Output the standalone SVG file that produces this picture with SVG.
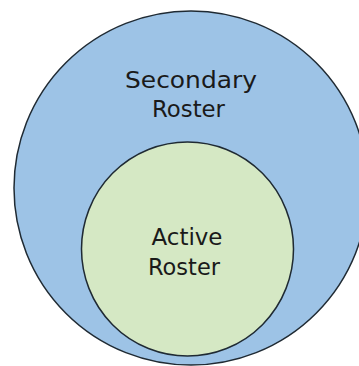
<svg xmlns="http://www.w3.org/2000/svg" width="359" height="366" viewBox="0 0 359 366">
<style>
.c{stroke:#1f2a33;stroke-width:1.5}
.t{font-family:"DejaVu Sans",Verdana,sans-serif;font-size:23px;fill:#1a1a1a;text-anchor:middle}
</style>
<rect width="359" height="366" fill="#ffffff"/>
<g id="secondary">
<ellipse class="c" cx="191" cy="188" rx="177" ry="177" fill="#9dc3e6"/>
<text class="t" x="191" y="88" textLength="132" lengthAdjust="spacingAndGlyphs">Secondary</text>
<text class="t" x="188.5" y="116.5" textLength="73" lengthAdjust="spacingAndGlyphs">Roster</text>
</g>
<g id="active">
<ellipse class="c" cx="187.5" cy="249" rx="106" ry="107" fill="#d5e8c4"/>
<text class="t" x="187" y="245" textLength="71" lengthAdjust="spacingAndGlyphs">Active</text>
<text class="t" x="184" y="275" textLength="72" lengthAdjust="spacingAndGlyphs">Roster</text>
</g>
<g id="connectors"/>
</svg>
